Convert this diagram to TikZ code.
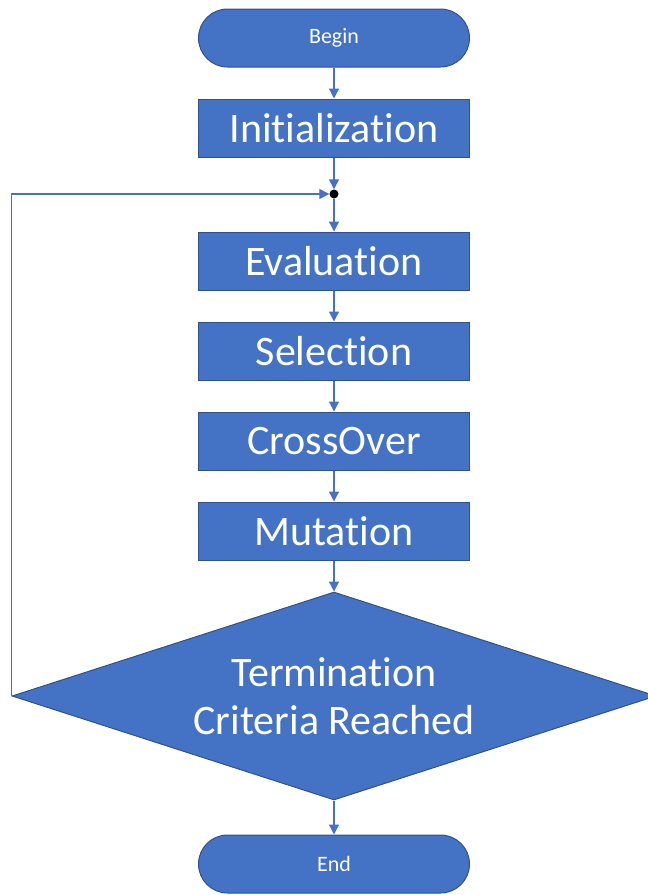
\documentclass[tikz,border=0pt]{standalone}
\usepackage{fontspec}
\setmainfont{Carlito}[Ligatures=NoCommon]
\usetikzlibrary{arrows.meta, positioning, shapes.geometric}
\definecolor{boxblue}{HTML}{4472C4}
\definecolor{edgeblue}{HTML}{2F528F}

\begin{document}
\begin{tikzpicture}[x=1pt, y=-1pt, >={Triangle[length=10pt, width=10pt]},
  flow/.style={draw=edgeblue, line width=1pt, fill=boxblue, text=white,
               minimum width=271pt, minimum height=58pt, inner sep=0pt},
  termbox/.style={flow, rounded corners=29pt, font=\fontsize{22}{26}\selectfont},
  stage/.style={flow, font=\fontsize{42}{50}\selectfont},
  link/.style={->, draw=boxblue, line width=1.3pt}]
  \useasboundingbox (0,0) rectangle (648,895);

  % Start and setup
  \node[termbox] (begin) at (334,38) {Begin};
  \node[stage] (init) at (334,128) {Initialization};
  \node[circle, fill=black, inner sep=0pt, minimum size=9pt] (join) at (334,194) {};

  % Generation loop
  \node[stage] (eval) at (334,261) {Evaluation};
  \node[stage] (sel) at (334,351) {Selection};
  \node[stage] (cross) at (334,441) {CrossOver};
  \node[stage] (mut) at (334,531) {Mutation};
  \node[diamond, aspect=3.1, draw=edgeblue, line width=1pt, fill=boxblue, text=white,
        minimum width=644pt, minimum height=208pt, inner sep=0pt,
        align=center, font=\fontsize{42}{48}\selectfont] (check) at (334,696)
        {Termination\\Criteria Reached};

  % Finish
  \node[termbox] (end) at (334,864) {End};

  % Connectors
  \draw[link] (begin) -- (init);
  \draw[link] (init) -- (join);
  \draw[link] (join) -- (eval);
  \draw[link] (eval) -- (sel);
  \draw[link] (sel) -- (cross);
  \draw[link] (cross) -- (mut);
  \draw[link] (mut) -- (check);
  \draw[link] (check) -- (end);
  \draw[link] (check.west) |- (join.west);
\end{tikzpicture}
\end{document}
